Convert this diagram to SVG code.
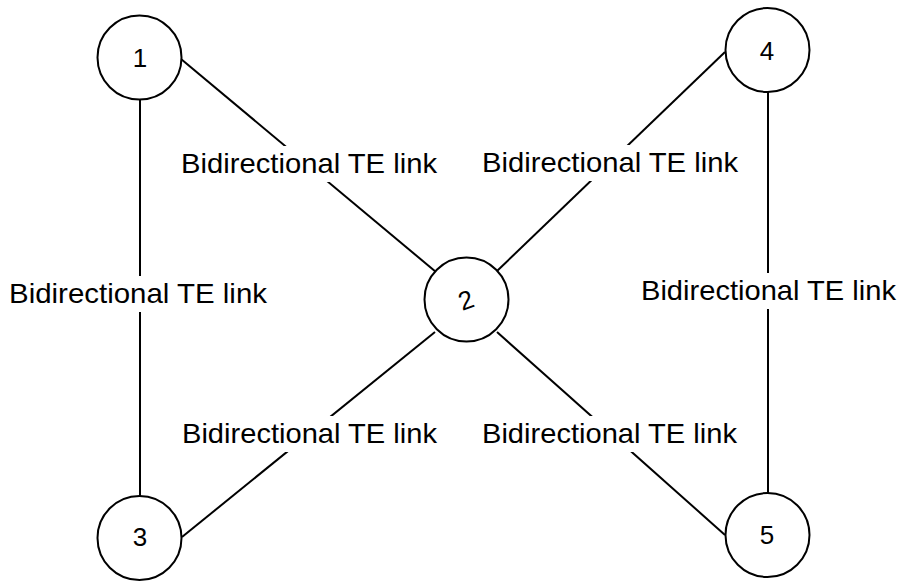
<svg xmlns="http://www.w3.org/2000/svg" width="904" height="583" viewBox="0 0 904 583">
  <style>
    .link { stroke: #000; stroke-width: 2; fill: none; }
    .node circle { fill: #fff; stroke: #000; stroke-width: 2; }
    .num { font-family: "Liberation Sans", Arial, sans-serif; font-size: 26px; text-anchor: middle; fill: #000; }
    .lbl { font-family: "Liberation Sans", Arial, sans-serif; font-size: 28px; fill: #000; }
    .bg { fill: #fff; }
  </style>
  <rect width="904" height="583" fill="#fff"/>

  <!-- links -->
  <g id="connectors">
    <line class="link" x1="140" y1="99" x2="140" y2="496"/>
    <line class="link" x1="768" y1="92" x2="768" y2="493"/>
    <line class="link" x1="181" y1="59" x2="436" y2="272"/>
    <line class="link" x1="725" y1="52" x2="497" y2="271"/>
    <line class="link" x1="182" y1="537" x2="435" y2="332"/>
    <line class="link" x1="725" y1="535" x2="497" y2="332"/>
  </g>

  <!-- link labels -->
  <g id="labels">
    <rect class="bg" x="180" y="146" width="260" height="36"/>
    <text class="lbl" x="181" y="173" textLength="256" lengthAdjust="spacingAndGlyphs">Bidirectional TE link</text>
    <rect class="bg" x="480" y="145" width="260" height="36"/>
    <text class="lbl" x="482" y="172" textLength="256" lengthAdjust="spacingAndGlyphs">Bidirectional TE link</text>
    <rect class="bg" x="8" y="276" width="262" height="36"/>
    <text class="lbl" x="9" y="303" textLength="258" lengthAdjust="spacingAndGlyphs">Bidirectional TE link</text>
    <rect class="bg" x="639" y="273" width="260" height="36"/>
    <text class="lbl" x="641" y="300" textLength="255" lengthAdjust="spacingAndGlyphs">Bidirectional TE link</text>
    <rect class="bg" x="180" y="416" width="260" height="36"/>
    <text class="lbl" x="182" y="443" textLength="255" lengthAdjust="spacingAndGlyphs">Bidirectional TE link</text>
    <rect class="bg" x="480" y="416" width="260" height="36"/>
    <text class="lbl" x="482" y="443" textLength="255" lengthAdjust="spacingAndGlyphs">Bidirectional TE link</text>
  </g>

  <!-- nodes -->
  <g id="node-1" class="node">
    <circle cx="139.5" cy="57.5" r="42"/>
    <text class="num" x="140" y="67">1</text>
  </g>
  <g id="node-2" class="node">
    <circle cx="466.5" cy="299.5" r="42"/>
    <text class="num" x="466" y="309" transform="rotate(-20 466 300)">2</text>
  </g>
  <g id="node-3" class="node">
    <circle cx="139.5" cy="538" r="42"/>
    <text class="num" x="140" y="546">3</text>
  </g>
  <g id="node-4" class="node">
    <circle cx="767.5" cy="50" r="42"/>
    <text class="num" x="767" y="60">4</text>
  </g>
  <g id="node-5" class="node">
    <circle cx="767.5" cy="535" r="42"/>
    <text class="num" x="767" y="544">5</text>
  </g>
</svg>
